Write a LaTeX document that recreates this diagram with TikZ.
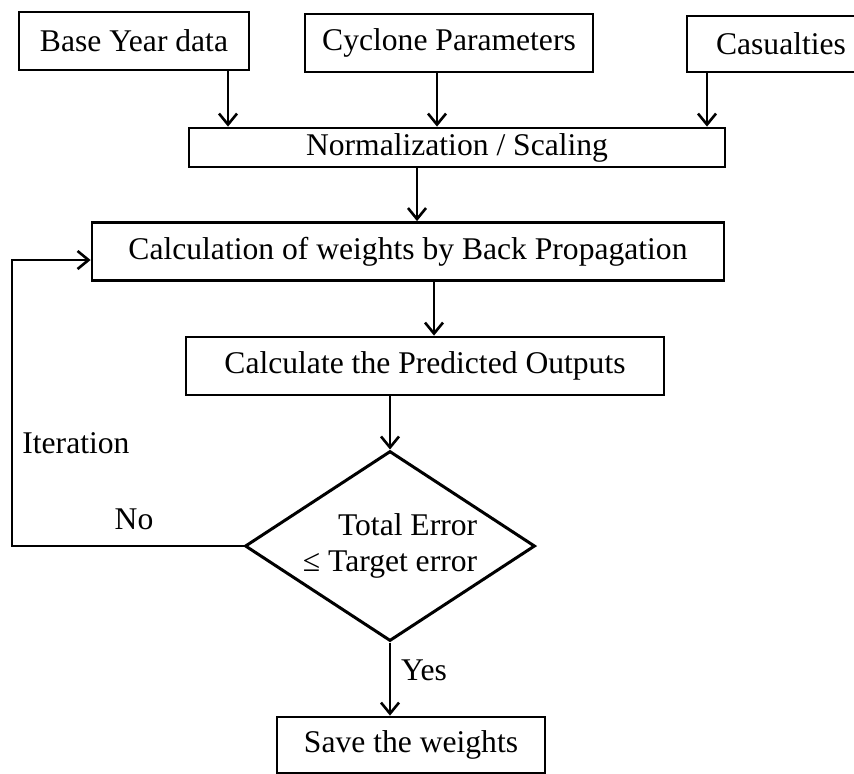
\documentclass[tikz,border=0pt]{standalone}
\usepackage{fontspec}
\setmainfont{Liberation Serif}
\usetikzlibrary{arrows.meta,shapes.geometric}

\begin{document}
\begin{tikzpicture}[
  x=0.5pt,
  y=-0.5pt,
  font=\fontsize{15.8}{18}\selectfont,
  box/.style={draw, line width=1.4pt, inner sep=0pt, minimum height=29pt},
  decision/.style={draw, diamond, line width=1.5pt, inner sep=0pt, shape aspect=1.53,
    minimum width=145pt, minimum height=95pt, align=right},
  arr/.style={-{Straight Barb[length=5.5pt,width=9pt,line width=1.3pt]}, line width=1.2pt}
]
  \useasboundingbox (0,0) rectangle (854,773);

  % input boxes
  \node[box, minimum width=115pt] (base) at (134,41) {Base Year data};
  \node[box, minimum width=144pt] (cyclone) at (449,43) {Cyclone Parameters};
  \node[box, minimum width=84pt, minimum height=28pt] (casualties) at (771,44) {\hspace*{10pt}Casualties};

  % main chain
  \node[box, minimum width=268pt, minimum height=19.5pt] (norm) at (457,147.5) {Normalization / Scaling};
  \node[box, minimum width=316pt] (calc) at (408,251.5) {Calculation of weights by Back Propagation};
  \node[box, minimum width=239pt] (pred) at (425,366) {Calculate the Predicted Outputs};
  \node[decision] (dec) at (390,546) {Total Error\\≤ Target error};
  \node[box, minimum width=134pt, minimum height=28pt] (save) at (411,745) {Save the weights};

  % labels
  \node[anchor=west, inner sep=0pt] (iter) at (22,443) {Iteration};
  \node (no) at (134,519) {No};
  \node (yes) at (424,670) {Yes};

  % arrow columns
  \coordinate (xa) at (228,0);
  \coordinate (xb) at (437,0);
  \coordinate (xc) at (707,0);
  \coordinate (xd) at (417,0);
  \coordinate (xe) at (434,0);

  \draw[arr] (base.south -| xa) -- (norm.north -| xa);
  \draw[arr] (cyclone.south -| xb) -- (norm.north -| xb);
  \draw[arr] (casualties.south -| xc) -- (norm.north -| xc);
  \draw[arr] (norm.south -| xd) -- (calc.north -| xd);
  \draw[arr] (calc.south -| xe) -- (pred.north -| xe);
  \draw[arr] (pred.south -| dec.north) -- (dec.north);
  \draw[arr] (dec.south) -- (save.north -| dec.south);

  % iteration loop
  \coordinate (loop) at (12,546);
  \coordinate (back) at (12,260);
  \draw[arr] (dec.west) -- (loop) -- (back) -- (back -| calc.west);
\end{tikzpicture}
\end{document}
